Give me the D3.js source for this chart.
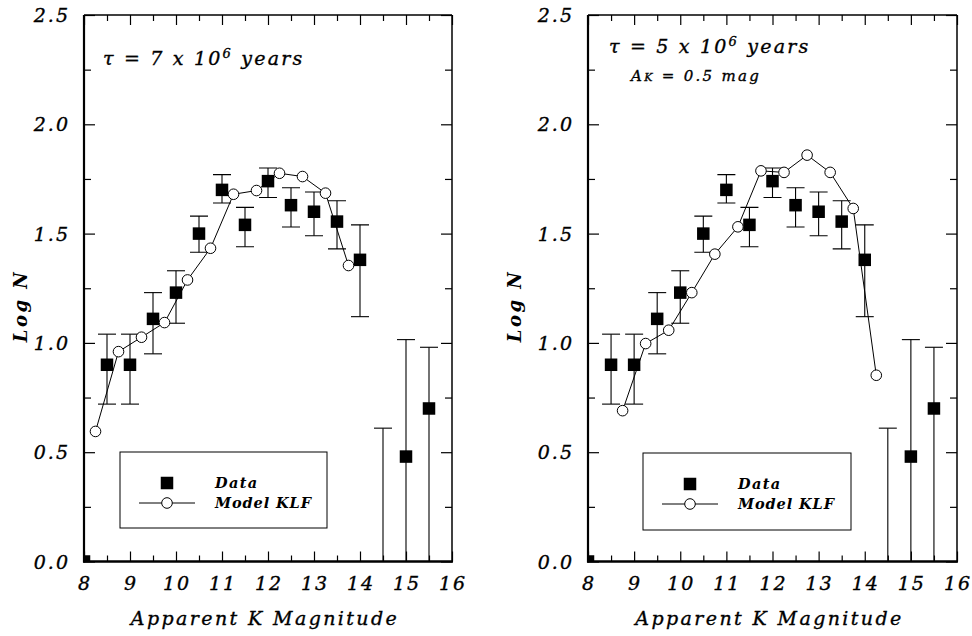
<!DOCTYPE html>
<html>
<head>
<meta charset="utf-8">
<script src="https://cdn.jsdelivr.net/npm/d3@7"></script>
<style>
  body { margin: 0; background: #fff; }
  svg text { font-family: "DejaVu Serif", serif; font-style: italic; fill: #000; }
  svg text.heavy { stroke: #000; stroke-width: 0.35px; }
</style>
</head>
<body>
<div id="chart"></div>
<script>
(function() {
    /********************************************
     * DATA
     ********************************************/
    // observed KLF (same in both panels)
    const dataMag  = [8.0, 8.5, 9.0, 9.5, 10.0, 10.5, 11.0, 11.5, 12.0, 12.5, 13.0, 13.5, 14.0, 14.5, 15.0, 15.5];
    const dataLogN = [0.0, 0.90, 0.90, 1.11, 1.23, 1.50, 1.70, 1.54, 1.74, 1.63, 1.60, 1.555, 1.38, null, 0.48, 0.70];
    const errLow   = [null, 0.72, 0.72, 0.95, 1.09, 1.415, 1.64, 1.44, 1.665, 1.53, 1.49, 1.43, 1.12, 0.0, 0.0, 0.0];
    const errHigh  = [null, 1.04, 1.04, 1.23, 1.33, 1.58, 1.77, 1.62, 1.80, 1.71, 1.69, 1.65, 1.54, 0.61, 1.015, 0.98];

    // model KLF, left panel (tau = 7e6 yr)
    const modelMagA  = [8.25, 8.75, 9.25, 9.75, 10.25, 10.75, 11.25, 11.75, 12.25, 12.75, 13.25, 13.75];
    const modelLogNA = [0.595, 0.96, 1.026, 1.093, 1.288, 1.433, 1.68, 1.697, 1.776, 1.761, 1.685, 1.354];

    // model KLF, right panel (tau = 5e6 yr, A_K = 0.5)
    const modelMagB  = [8.75, 9.25, 9.75, 10.25, 10.75, 11.25, 11.75, 12.25, 12.75, 13.25, 13.75, 14.25];
    const modelLogNB = [0.69, 0.997, 1.058, 1.23, 1.406, 1.531, 1.787, 1.78, 1.859, 1.78, 1.615, 0.852];

    const xTicks = [8, 9, 10, 11, 12, 13, 14, 15, 16];
    const yTicks = [0.0, 0.5, 1.0, 1.5, 2.0, 2.5];

    /********************************************
     * LAYOUT
     ********************************************/
    const width = 972;
    const height = 636;

    const panels = [
        { id: "a", x0: 84, x1: 452, tau: "7", ak: false, tauY: 65,
          modelMag: modelMagA, modelLogN: modelLogNA,
          legend: { x: 120, y: 452, w: 207, h: 76 }, ylabX: 21 },
        { id: "b", x0: 588, x1: 957, tau: "5", ak: true, tauY: 53,
          modelMag: modelMagB, modelLogN: modelLogNB,
          legend: { x: 643, y: 453, w: 208, h: 77 }, ylabX: 515 }
    ];
    const yTop = 15, yBot = 561.5;

    const svg = d3.select("#chart").append("svg")
        .attr("width", width)
        .attr("height", height);

    panels.forEach(p => drawPanel(p));

    function drawPanel(p) {
        const x = d3.scaleLinear().domain([8, 16]).range([p.x0, p.x1]);
        const y = d3.scaleLinear().domain([0, 2.5]).range([yBot, yTop]);
        const g = svg.append("g");

        const clipId = "clip-" + p.id;
        svg.append("defs").append("clipPath").attr("id", clipId)
            .append("rect")
            .attr("x", p.x0).attr("y", yTop)
            .attr("width", p.x1 - p.x0).attr("height", yBot - yTop);

        // ticks inward on all four sides
        const xMinor = d3.range(8.5, 16, 1);
        const yMinor = d3.range(0.25, 2.5, 0.5);

        g.append("g").attr("transform", `translate(0,${yBot})`)
            .call(d3.axisBottom(x).tickValues(xTicks).tickSize(-10).tickFormat(""))
            .call(a => a.select(".domain").remove());
        g.append("g").attr("transform", `translate(0,${yBot})`)
            .call(d3.axisBottom(x).tickValues(xMinor).tickSize(-6).tickFormat(""))
            .call(a => a.select(".domain").remove());
        g.append("g").attr("transform", `translate(0,${yTop})`)
            .call(d3.axisTop(x).tickValues(xTicks).tickSize(-10).tickFormat(""))
            .call(a => a.select(".domain").remove());
        g.append("g").attr("transform", `translate(0,${yTop})`)
            .call(d3.axisTop(x).tickValues(xMinor).tickSize(-6).tickFormat(""))
            .call(a => a.select(".domain").remove());
        g.append("g").attr("transform", `translate(${p.x0},0)`)
            .call(d3.axisLeft(y).tickValues(yTicks).tickSize(-11).tickFormat(""))
            .call(a => a.select(".domain").remove());
        g.append("g").attr("transform", `translate(${p.x0},0)`)
            .call(d3.axisLeft(y).tickValues(yMinor).tickSize(-7).tickFormat(""))
            .call(a => a.select(".domain").remove());
        g.append("g").attr("transform", `translate(${p.x1},0)`)
            .call(d3.axisRight(y).tickValues(yTicks).tickSize(-11).tickFormat(""))
            .call(a => a.select(".domain").remove());
        g.append("g").attr("transform", `translate(${p.x1},0)`)
            .call(d3.axisRight(y).tickValues(yMinor).tickSize(-7).tickFormat(""))
            .call(a => a.select(".domain").remove());
        g.selectAll(".tick line").attr("stroke", "#000").attr("stroke-width", 1.2);

        // frame
        g.append("line").attr("x1", p.x0).attr("x2", p.x1).attr("y1", yTop).attr("y2", yTop)
            .attr("stroke", "#000").attr("stroke-width", 1.5);
        g.append("line").attr("x1", p.x1).attr("x2", p.x1).attr("y1", yTop).attr("y2", yBot)
            .attr("stroke", "#000").attr("stroke-width", 1.5);
        g.append("line").attr("x1", p.x0).attr("x2", p.x0).attr("y1", yTop).attr("y2", yBot + 1)
            .attr("stroke", "#000").attr("stroke-width", 2.2);
        g.append("line").attr("x1", p.x0 - 1).attr("x2", p.x1 + 1).attr("y1", yBot).attr("y2", yBot)
            .attr("stroke", "#000").attr("stroke-width", 2.6);

        // tick labels
        g.selectAll(".xlab").data(xTicks).join("text")
            .attr("class", "heavy")
            .attr("x", d => x(d) + 1).attr("y", 590)
            .attr("text-anchor", "middle")
            .style("font-size", "19px")
            .style("letter-spacing", "2px")
            .text(d => d);
        g.selectAll(".ylab").data(yTicks).join("text")
            .attr("class", "heavy")
            .attr("x", p.x0 - 14).attr("y", d => y(d) + 7)
            .attr("text-anchor", "end")
            .style("font-size", "19px")
            .style("letter-spacing", "2px")
            .text(d => d.toFixed(1));

        // axis titles
        g.append("text")
            .attr("class", "heavy")
            .attr("x", (p.x0 + p.x1) / 2 - 3).attr("y", 625)
            .attr("text-anchor", "middle")
            .style("font-size", "19px")
            .style("letter-spacing", "2.4px")
            .text("Apparent K Magnitude");
        g.append("text")
            .attr("transform", `translate(${p.ylabX + 6},306) rotate(-90)`)
            .attr("text-anchor", "middle")
            .style("font-size", "18px")
            .style("font-weight", "bold")
            .style("letter-spacing", "2.5px")
            .text("Log N");

        // annotation
        const ann = g.append("text")
            .attr("class", "heavy")
            .attr("x", p.x0 + 19 + (p.ak ? 2 : 0)).attr("y", p.tauY)
            .style("font-size", "19px")
            .style("letter-spacing", "2.2px");
        ann.append("tspan").text(`τ = ${p.tau} x 10`);
        ann.append("tspan").attr("dy", -7).style("font-size", "13px").text("6");
        ann.append("tspan").attr("dy", 7).text(" years");
        if (p.ak) {
            const ak = g.append("text")
                .attr("class", "heavy")
                .attr("x", p.x0 + 43).attr("y", 81)
                .style("font-size", "15px")
                .style("letter-spacing", "2.3px");
            ak.append("tspan").text("A");
            ak.append("tspan").style("font-size", "11px").text("K");
            ak.append("tspan").text(" = 0.5 mag");
        }

        // plot content, clipped
        const plot = g.append("g").attr("clip-path", `url(#${clipId})`);

        const pts = dataMag.map((m, i) => ({ m: m, v: dataLogN[i], lo: errLow[i], hi: errHigh[i] }));
        const withErr = pts.filter(d => d.hi != null);
        const cap = 9;

        plot.selectAll(".ebar").data(withErr).join("line")
            .attr("x1", d => x(d.m)).attr("x2", d => x(d.m))
            .attr("y1", d => y(d.lo)).attr("y2", d => y(d.hi))
            .attr("stroke", "#000").attr("stroke-width", 1.1);
        plot.selectAll(".ecapHi").data(withErr).join("line")
            .attr("x1", d => x(d.m) - cap).attr("x2", d => x(d.m) + cap)
            .attr("y1", d => y(d.hi)).attr("y2", d => y(d.hi))
            .attr("stroke", "#000").attr("stroke-width", 1.1);
        plot.selectAll(".ecapLo").data(withErr.filter(d => d.lo > 0)).join("line")
            .attr("x1", d => x(d.m) - cap).attr("x2", d => x(d.m) + cap)
            .attr("y1", d => y(d.lo)).attr("y2", d => y(d.lo))
            .attr("stroke", "#000").attr("stroke-width", 1.1);

        const line = d3.line().x(d => x(d.m)).y(d => y(d.v));
        const model = p.modelMag.map((m, i) => ({ m: m, v: p.modelLogN[i] }));
        plot.append("path").datum(model)
            .attr("d", line)
            .attr("fill", "none")
            .attr("stroke", "#000")
            .attr("stroke-width", 1);

        const sq = 12.5;
        plot.selectAll(".sq").data(pts.filter(d => d.v != null)).join("rect")
            .attr("x", d => x(d.m) - sq / 2).attr("y", d => y(d.v) - sq / 2)
            .attr("width", sq).attr("height", sq)
            .attr("fill", "#000");

        plot.selectAll(".circ").data(model).join("circle")
            .attr("cx", d => x(d.m)).attr("cy", d => y(d.v))
            .attr("r", 5.3)
            .attr("fill", "#fff")
            .attr("stroke", "#000")
            .attr("stroke-width", 1);

        // legend
        const L = p.legend;
        const lg = g.append("g");
        lg.append("rect")
            .attr("x", L.x).attr("y", L.y).attr("width", L.w).attr("height", L.h)
            .attr("fill", "#fff").attr("stroke", "#000").attr("stroke-width", 1);
        const mx = L.x + 47;
        lg.append("rect")
            .attr("x", mx - sq / 2).attr("y", L.y + 31 - sq / 2)
            .attr("width", sq).attr("height", sq).attr("fill", "#000");
        lg.append("line")
            .attr("x1", mx - 28).attr("x2", mx + 28)
            .attr("y1", L.y + 51).attr("y2", L.y + 51)
            .attr("stroke", "#000").attr("stroke-width", 1);
        lg.append("circle")
            .attr("cx", mx).attr("cy", L.y + 51).attr("r", 5.3)
            .attr("fill", "#fff").attr("stroke", "#000").attr("stroke-width", 1);
        lg.append("text")
            .attr("x", L.x + 95).attr("y", L.y + 36)
            .style("font-size", "14.5px").style("font-weight", "bold")
            .style("letter-spacing", "1.4px")
            .text("Data");
        lg.append("text")
            .attr("x", L.x + 95).attr("y", L.y + 56)
            .style("font-size", "14.5px").style("font-weight", "bold")
            .style("letter-spacing", "0.9px")
            .text("Model KLF");
    }
})();
</script>
</body>
</html>
